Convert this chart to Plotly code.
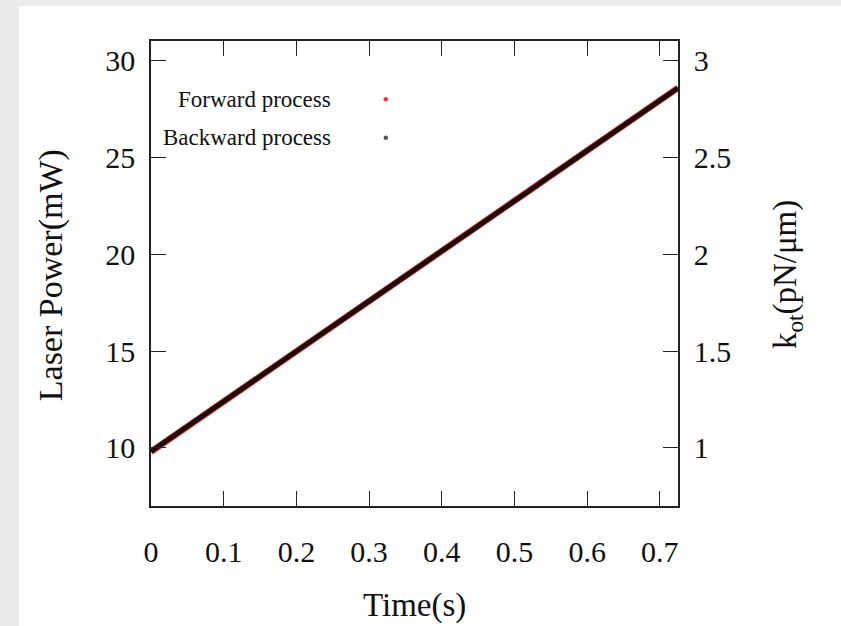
import plotly.graph_objects as go

# Time samples (s) and laser power (mW) for the two trap-stiffness ramps
time_s = [0.000, 0.025, 0.050, 0.075, 0.100, 0.125, 0.150, 0.175, 0.200, 0.225,
          0.250, 0.275, 0.300, 0.325, 0.350, 0.375, 0.400, 0.425, 0.450, 0.475,
          0.500, 0.525, 0.550, 0.575, 0.600, 0.625, 0.650, 0.675, 0.700, 0.725]
forward_mw = [9.80, 10.45, 11.10, 11.74, 12.39, 13.04, 13.69, 14.33, 14.98, 15.63,
              16.28, 16.92, 17.57, 18.22, 18.87, 19.51, 20.16, 20.81, 21.46, 22.10,
              22.75, 23.40, 24.05, 24.69, 25.34, 25.99, 26.64, 27.28, 27.93, 28.58]
backward_mw = [9.81, 10.45, 11.09, 11.75, 12.39, 13.03, 13.69, 14.34, 14.98, 15.62,
               16.28, 16.93, 17.57, 18.21, 18.87, 19.52, 20.16, 20.80, 21.46, 22.11,
               22.75, 23.39, 24.05, 24.70, 25.34, 25.98, 26.64, 27.29, 27.93, 28.57]

x_ticks = [0, 0.1, 0.2, 0.3, 0.4, 0.5, 0.6, 0.7]
x_tick_text = ["0", "0.1", "0.2", "0.3", "0.4", "0.5", "0.6", "0.7"]
power_ticks = [10, 15, 20, 25, 30]
k_ticks = [1, 1.5, 2, 2.5, 3]
k_tick_text = ["1", "1.5", "2", "2.5", "3"]

legend_labels = ["Forward process", "Backward process"]
forward_color = "#e83a3a"
backward_color = "#1e0c0c"
legend_dot_colors = [forward_color, "#555555"]

FONT = "Liberation Serif, Times New Roman, serif"
AXIS_COLOR = "#222222"
TEXT_COLOR = "#111111"
FRAME_GRAY = "#ebebeb"

fig = go.Figure()
fig.add_trace(go.Scatter(x=time_s, y=forward_mw, mode="lines",
                         line=dict(color=forward_color, width=6.5),
                         name=legend_labels[0], showlegend=False))
fig.add_trace(go.Scatter(x=time_s, y=backward_mw, mode="lines",
                         line=dict(color=backward_color, width=5),
                         name=legend_labels[1], showlegend=False))
# invisible trace that carries the secondary stiffness axis
fig.add_trace(go.Scatter(x=[time_s[0]], y=[forward_mw[0] / 10], yaxis="y2",
                         mode="markers", marker=dict(opacity=0),
                         showlegend=False, hoverinfo="skip"))

axis_common = dict(showgrid=False, zeroline=False, showline=True,
                   linecolor=AXIS_COLOR, linewidth=1.5,
                   ticks="inside", ticklen=15, tickwidth=1.3, tickcolor=AXIS_COLOR,
                   tickfont=dict(family=FONT, size=30, color=TEXT_COLOR))

fig.update_layout(
    width=841, height=626,
    margin=dict(l=151, r=163, t=41, b=120),
    paper_bgcolor="white",
    plot_bgcolor="white",
    xaxis=dict(range=[0, 0.725], tickvals=x_ticks, ticktext=x_tick_text,
               mirror="ticks", ticklabelstandoff=18, **axis_common),
    yaxis=dict(range=[7, 31], tickvals=power_ticks, ticklabelstandoff=8,
               **axis_common),
    yaxis2=dict(range=[0.7, 3.1], tickvals=k_ticks, ticktext=k_tick_text,
                overlaying="y", side="right", ticklabelstandoff=8,
                **axis_common),
)

# gray frame strips along the left and top edges of the page
fig.add_shape(type="rect", xref="paper", yref="paper",
              x0=-0.2866, x1=-0.2505, y0=-0.259, y1=1.0883,
              fillcolor=FRAME_GRAY, line=dict(width=0), layer="below")
fig.add_shape(type="rect", xref="paper", yref="paper",
              x0=-0.2866, x1=1.3093, y0=1.0753, y1=1.0883,
              fillcolor=FRAME_GRAY, line=dict(width=0), layer="below")

# legend: text right-aligned with the key dot on its right
legend_y = [0.8747, 0.792]
for label, yy, col in zip(legend_labels, legend_y, legend_dot_colors):
    fig.add_annotation(text=label, xref="paper", yref="paper",
                       x=0.345, y=yy, xanchor="right", yanchor="middle",
                       showarrow=False,
                       font=dict(family=FONT, size=23, color=TEXT_COLOR))
    fig.add_shape(type="circle", xref="paper", yref="paper",
                  xsizemode="pixel", ysizemode="pixel",
                  xanchor=0.4456, yanchor=yy,
                  x0=-2.3, x1=2.3, y0=-2.3, y1=2.3,
                  fillcolor=col, line=dict(width=0))

# axis titles
fig.add_annotation(text="Time(s)", xref="paper", yref="paper",
                   x=0.5, y=-0.213, xanchor="center", yanchor="middle",
                   showarrow=False, font=dict(family=FONT, size=33, color=TEXT_COLOR))
fig.add_annotation(text="Laser Power(mW)", xref="paper", yref="paper",
                   x=-0.19, y=0.496, xanchor="center", yanchor="middle",
                   textangle=-90, showarrow=False,
                   font=dict(family=FONT, size=34, color=TEXT_COLOR))
fig.add_annotation(text="k<sub>ot</sub>(pN/μm)", xref="paper", yref="paper",
                   x=1.209, y=0.497, xanchor="center", yanchor="middle",
                   textangle=-90, showarrow=False,
                   font=dict(family=FONT, size=33, color=TEXT_COLOR))

fig.write_html("out.html")
